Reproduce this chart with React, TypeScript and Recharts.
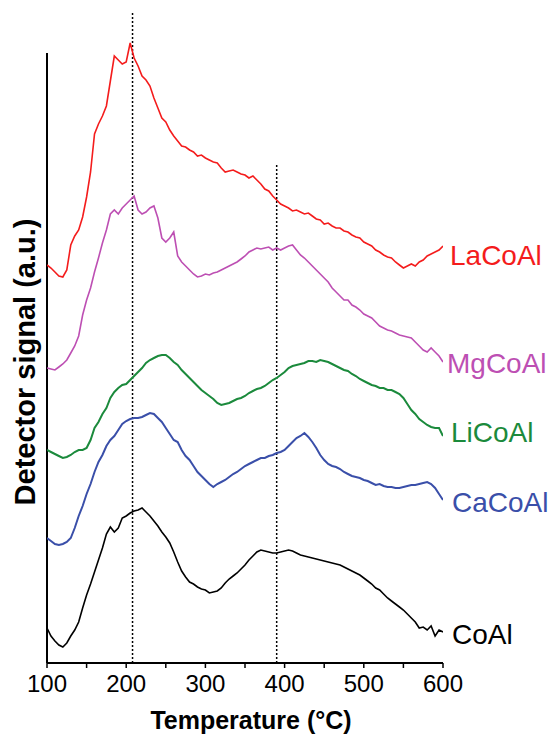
import React from "react";
import { LineChart, Line, XAxis, YAxis, ReferenceLine } from "recharts";

const temperatures = [
  100, 105, 110, 115, 120, 125, 130, 135, 140, 145, 150, 155, 160, 165, 170, 175, 180, 185, 190, 195,
  200, 205, 210, 215, 220, 225, 230, 235, 240, 245, 250, 255, 260, 265, 270, 275, 280, 285, 290, 295,
  300, 305, 310, 315, 320, 325, 330, 335, 340, 345, 350, 355, 360, 365, 370, 375, 380, 385, 390, 395,
  400, 405, 410, 415, 420, 425, 430, 435, 440, 445, 450, 455, 460, 465, 470, 475, 480, 485, 490, 495,
  500, 505, 510, 515, 520, 525, 530, 535, 540, 545, 550, 555, 560, 565, 570, 575, 580, 585, 590, 595, 600,
];

const laCoAl = [
  398, 395, 391, 387, 386, 393, 418, 427, 433, 446, 466, 491, 529, 539, 547, 557, 582, 607, 603, 599,
  601, 620, 605, 597, 587, 583, 577, 565, 555, 545, 541, 533, 527, 522, 517, 516, 513, 511, 507, 508,
  505, 503, 501, 500, 495, 491, 492, 493, 491, 489, 488, 485, 487, 483, 479, 474, 472, 467, 463, 459,
  457, 455, 452, 453, 451, 449, 450, 447, 444, 443, 439, 440, 437, 435, 435, 432, 431, 428, 426, 425,
  421, 419, 417, 413, 411, 408, 406, 405, 401, 398, 395, 397, 399, 397, 401, 403, 407, 409, 411, 413, 417,
];

const mgCoAl = [
  295, 294, 293, 296, 299, 303, 310, 317, 327, 348, 363, 375, 391, 405, 420, 433, 449, 453, 449, 455,
  459, 463, 467, 453, 449, 451, 455, 457, 445, 425, 421, 425, 431, 407, 401, 397, 393, 389, 386, 387,
  389, 388, 390, 391, 393, 395, 397, 399, 401, 404, 407, 411, 413, 415, 414, 415, 416, 413, 415, 413,
  415, 417, 418, 413, 408, 405, 401, 397, 393, 389, 385, 381, 375, 371, 367, 363, 363, 358, 356, 353,
  349, 347, 345, 341, 337, 335, 333, 332, 330, 328, 327, 326, 325, 321, 317, 313, 311, 315, 311, 307, 301,
];

const liCoAl = [
  213, 211, 209, 207, 205, 206, 208, 211, 213, 213, 215, 223, 235, 241, 249, 255, 265, 271, 275, 278,
  279, 283, 287, 291, 295, 300, 303, 305, 307, 308, 308, 305, 301, 298, 293, 289, 285, 281, 277, 273,
  270, 267, 264, 260, 258, 259, 260, 262, 264, 265, 267, 270, 272, 274, 275, 277, 280, 283, 285, 288,
  291, 295, 297, 298, 299, 300, 302, 302, 301, 303, 302, 301, 299, 297, 295, 293, 292, 289, 287, 284,
  282, 280, 278, 277, 275, 275, 273, 273, 271, 269, 265, 259, 253, 249, 244, 241, 238, 236, 235, 235, 227,
];

const caCoAl = [
  125, 122, 119, 118, 119, 121, 125, 135, 147, 157, 169, 179, 191, 201, 208, 217, 223, 227, 233, 239,
  242, 244, 245, 245, 246, 248, 250, 249, 245, 241, 235, 229, 223, 221, 213, 207, 203, 197, 191, 187,
  183, 179, 176, 179, 181, 183, 186, 189, 191, 194, 197, 199, 201, 203, 205, 205, 207, 208, 210, 211,
  213, 217, 221, 225, 227, 230, 226, 221, 215, 208, 203, 199, 197, 196, 194, 191, 189, 187, 186, 185,
  183, 182, 180, 178, 179, 177, 176, 176, 175, 175, 176, 177, 178, 178, 179, 180, 181, 179, 175, 169, 163,
];

const coAl = [
  35, 27, 22, 18, 16, 20, 27, 33, 41, 55, 68, 79, 91, 103, 115, 129, 136, 131, 135, 145,
  147, 150, 152, 153, 155, 151, 147, 142, 137, 131, 126, 120, 111, 101, 92, 86, 81, 79, 76, 74,
  73, 70, 71, 72, 75, 80, 84, 87, 90, 94, 98, 103, 107, 111, 113, 112, 111, 110, 110, 111,
  112, 113, 112, 110, 108, 107, 106, 105, 104, 103, 102, 101, 100, 99, 98, 96, 94, 92, 90, 88,
  85, 82, 79, 75, 73, 69, 65, 62, 59, 56, 53, 49, 45, 41, 35, 36, 33, 37, 27, 33, 31,
];

const xTicks = [100, 150, 200, 250, 300, 350, 400, 450, 500, 550, 600];
const labeledTicks = [100, 200, 300, 400, 500, 600];
const peakMarkers = [208, 390];

const seriesNames = ["LaCoAl", "MgCoAl", "LiCoAl", "CaCoAl", "CoAl"];
const seriesColors = ["#f41c1c", "#bd4fb3", "#1b8a3c", "#3a4fa9", "#000000"];
const seriesValues = [laCoAl, mgCoAl, liCoAl, caCoAl, coAl];

const rows = temperatures.map((t, i) => {
  const r: Record<string, number> = { t };
  seriesNames.forEach((n, k) => {
    r[n] = seriesValues[k][i];
  });
  return r;
});

const FONT = "'Liberation Sans', Arial, Helvetica, sans-serif";

const labelPos = [
  { x: 450, y: 265 },
  { x: 447, y: 373 },
  { x: 451, y: 442 },
  { x: 452, y: 512 },
  { x: 452, y: 644 },
];

export default function App() {
  return (
    <div style={{ position: "absolute", left: 0, top: 0, width: 556, height: 737, background: "#fff" }}>
      <LineChart
        width={556}
        height={737}
        data={rows}
        margin={{ top: 12, right: 113, left: 47, bottom: 0 }}
      >
        <XAxis
          dataKey="t"
          type="number"
          domain={[100, 600]}
          ticks={xTicks}
          allowDataOverflow
          height={74}
          tickSize={5}
          tickMargin={7}
          axisLine={{ stroke: "#000", strokeWidth: 2 }}
          tickLine={{ stroke: "#000", strokeWidth: 1.5 }}
          tick={{ fill: "#000", fontSize: 24, fontFamily: FONT }}
          tickFormatter={(v: number) => (labeledTicks.includes(v) ? String(v) : "")}
        />
        <YAxis hide type="number" domain={[0, 651]} allowDataOverflow />
        <ReferenceLine
          segment={[
            { x: 100, y: 0 },
            { x: 100, y: 610 },
          ]}
          stroke="#000"
          strokeWidth={2}
        />
        <ReferenceLine x={peakMarkers[0]} stroke="#000" strokeWidth={1.5} strokeDasharray="2 2" />
        <ReferenceLine
          segment={[
            { x: peakMarkers[1], y: 0 },
            { x: peakMarkers[1], y: 500 },
          ]}
          stroke="#000"
          strokeWidth={1.5}
          strokeDasharray="2 2"
        />
        {seriesNames.map((n, k) => (
          <Line
            key={n}
            dataKey={n}
            type="linear"
            stroke={seriesColors[k]}
            strokeWidth={k === 2 || k === 3 ? 2 : 1.6}
            dot={false}
            activeDot={false}
            isAnimationActive={false}
          />
        ))}
      </LineChart>
      <svg
        width={556}
        height={737}
        style={{ position: "absolute", left: 0, top: 0, pointerEvents: "none" }}
      >
        {seriesNames.map((n, k) => (
          <text
            key={n}
            x={labelPos[k].x}
            y={labelPos[k].y}
            fill={seriesColors[k]}
            fontSize={28}
            fontFamily={FONT}
          >
            {n}
          </text>
        ))}
        <text
          x={251}
          y={729}
          textAnchor="middle"
          fontSize={25}
          fontWeight="bold"
          fontFamily={FONT}
          fill="#000"
        >
          Temperature (°C)
        </text>
        <text
          x={35}
          y={362}
          transform="rotate(-90 35 362)"
          textAnchor="middle"
          fontSize={29}
          fontWeight="bold"
          fontFamily={FONT}
          fill="#000"
        >
          Detector signal (a.u.)
        </text>
      </svg>
    </div>
  );
}
